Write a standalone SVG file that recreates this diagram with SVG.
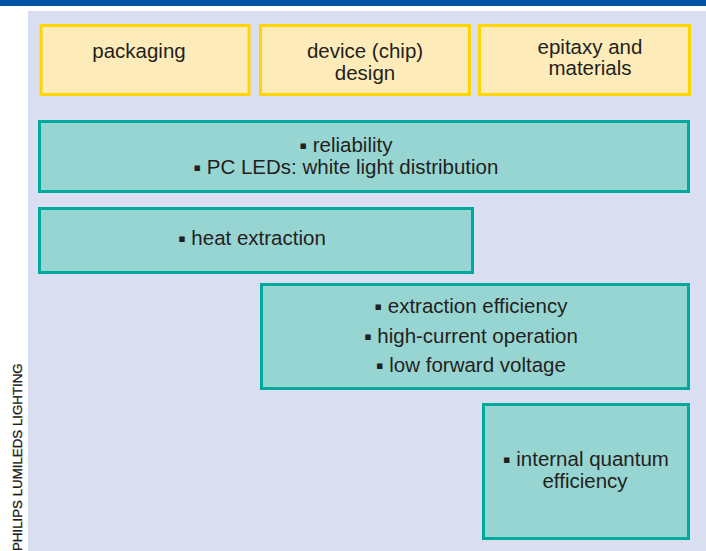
<svg xmlns="http://www.w3.org/2000/svg" width="706" height="551" viewBox="0 0 706 551">
<style>
.y{fill:#fdebb9;stroke:#ffd400;stroke-width:3}
.g{fill:#97d5d2;stroke:#00a99d;stroke-width:3}
.t{font-family:"Liberation Sans",Arial,sans-serif;font-size:20.5px;fill:#231f20;text-anchor:middle}
.b{font-family:"DejaVu Sans",sans-serif;font-size:11px}
</style>
<rect x="0" y="0" width="706" height="6" fill="#0054a6"/>
<rect x="28" y="11" width="678" height="540" fill="#d9dff0"/>
<text transform="translate(22,551) rotate(-90)" font-family="Liberation Sans,Arial,sans-serif" font-size="13.3" fill="#231f20" stroke="#231f20" stroke-width="0.3">PHILIPS LUMILEDS LIGHTING</text>
<g id="packaging"><rect class="y" x="41" y="25.5" width="208" height="69"/><text class="t" x="139" y="58">packaging</text></g>
<g id="device"><rect class="y" x="260.5" y="25.5" width="209" height="69"/><text class="t" x="365" y="58">device (chip)</text><text class="t" x="365" y="80">design</text></g>
<g id="epitaxy"><rect class="y" x="479.5" y="25.5" width="210" height="69"/><text class="t" x="590" y="54">epitaxy and</text><text class="t" x="590" y="75">materials</text></g>
<g id="reliability"><rect class="g" x="39.5" y="121.5" width="649" height="70"/><text class="t" x="346" y="152"><tspan class="b" dy="-3.5">▪</tspan><tspan dy="3.5"> reliability</tspan></text><text class="t" x="346" y="174"><tspan class="b" dy="-3.5">▪</tspan><tspan dy="3.5"> PC LEDs: white light distribution</tspan></text></g>
<g id="heat"><rect class="g" x="39.5" y="208.5" width="433" height="64"/><text class="t" x="252" y="245"><tspan class="b" dy="-3.5">▪</tspan><tspan dy="3.5"> heat extraction</tspan></text></g>
<g id="extraction"><rect class="g" x="261.5" y="284.5" width="427" height="104"/><text class="t" x="471" y="313"><tspan class="b" dy="-3.5">▪</tspan><tspan dy="3.5"> extraction efficiency</tspan></text><text class="t" x="471" y="343"><tspan class="b" dy="-3.5">▪</tspan><tspan dy="3.5"> high-current operation</tspan></text><text class="t" x="471" y="372"><tspan class="b" dy="-3.5">▪</tspan><tspan dy="3.5"> low forward voltage</tspan></text></g>
<g id="iqe"><rect class="g" x="483.5" y="404.5" width="205" height="134"/><text class="t" x="586" y="466"><tspan class="b" dy="-3.5">▪</tspan><tspan dy="3.5"> internal quantum</tspan></text><text class="t" x="585" y="488">efficiency</text></g>
<g id="connectors"/>
</svg>
